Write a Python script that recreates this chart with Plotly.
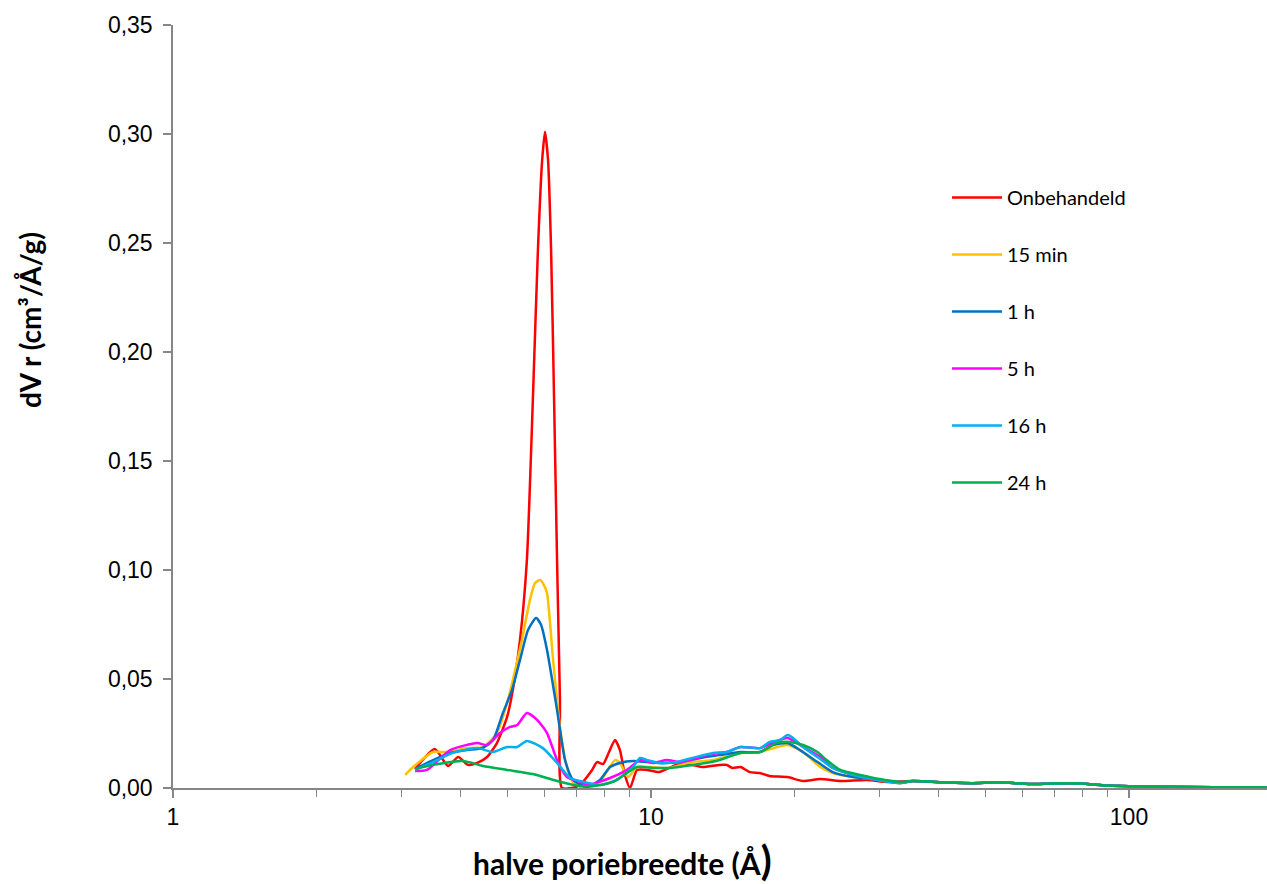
import plotly.graph_objects as go

# ---------------- data ----------------
series_names = ["Onbehandeld", "15 min", "1 h", "5 h", "16 h", "24 h"]
series_colors = ["#FF0000", "#FFC000", "#0070C0", "#FF00FF", "#00B0F0", "#00B050"]

tail_x = [35.3, 41.6, 47.0, 53.7, 62.1, 69.3, 78.9, 90.4, 100, 120, 150, 194]
tail_y = [0.0032, 0.0025, 0.0022, 0.0026, 0.0018, 0.0021, 0.0021, 0.0011, 0.0008, 0.0006, 0.0004, 0.0003]

onb_x = [3.21, 3.53, 3.76, 3.95, 4.14, 4.33, 4.54, 4.76, 5.00, 5.14, 5.32, 5.50, 5.66, 5.80, 5.92,
         6.00, 6.09, 6.18, 6.27, 6.36, 6.45, 6.51, 6.83, 7.10, 7.53, 7.71, 7.94, 8.17, 8.41, 8.61,
         8.82, 9.04, 9.35, 9.81, 10.4, 11.3, 12.2, 12.8, 13.9, 14.4, 14.8, 15.4, 16.1, 16.9, 17.7,
         19.3, 20.8, 22.6, 24.9, 28.3, 31.2]
onb_y = [0.0087, 0.0179, 0.0101, 0.0142, 0.0106, 0.0115, 0.0142, 0.0206, 0.0326, 0.045, 0.0679, 0.1046,
         0.178, 0.2468, 0.288, 0.301, 0.288, 0.2468, 0.178, 0.1046, 0.0404, 0.0, 0.0, 0.0014, 0.0083,
         0.0119, 0.011, 0.0165, 0.022, 0.0174, 0.006, 0.0, 0.0083, 0.0083, 0.0073, 0.0106, 0.0106,
         0.0096, 0.0106, 0.0106, 0.0092, 0.0096, 0.0073, 0.0069, 0.0055, 0.005, 0.0032, 0.0041, 0.0032,
         0.0037, 0.0028]

min15_x = [3.06, 3.18, 3.50, 3.74, 4.12, 4.45, 4.76, 5.00, 5.14, 5.37, 5.58, 5.72, 5.86, 5.97, 6.06,
           6.24, 6.45, 6.67, 6.87, 7.21, 7.57, 7.94, 8.41, 8.61, 8.95, 9.35, 9.96, 10.9, 12.2, 13.5,
           15.4, 16.9, 19.3, 20.8, 22.6, 24.0, 26.5, 29.1, 33.2]
min15_y = [0.006, 0.0096, 0.0165, 0.0165, 0.0183, 0.0188, 0.0252, 0.039, 0.0495, 0.0679, 0.0862, 0.094,
           0.0954, 0.0931, 0.0894, 0.0587, 0.028, 0.0096, 0.0028, 0.0, 0.0009, 0.005, 0.0128, 0.0115,
           0.005, 0.0096, 0.0096, 0.0092, 0.0119, 0.0128, 0.0161, 0.0165, 0.0197, 0.0165, 0.0096,
           0.0069, 0.005, 0.0041, 0.0023]

h1_x = [3.21, 3.50, 3.80, 4.12, 4.43, 4.67, 4.90, 5.12, 5.32, 5.53, 5.75, 5.89, 6.06, 6.36, 6.61, 6.87,
        7.35, 7.82, 8.21, 8.61, 9.17, 9.81, 10.4, 11.5, 12.7, 13.9, 15.4, 16.9, 18.0, 19.3, 20.5,
        22.3, 24.0, 26.5, 29.1, 33.2]
h1_y = [0.0087, 0.0128, 0.0161, 0.0174, 0.0183, 0.022, 0.0344, 0.045, 0.0587, 0.0725, 0.078, 0.0748,
        0.0633, 0.0358, 0.0128, 0.0037, 0.0005, 0.0037, 0.0096, 0.0115, 0.0124, 0.0119, 0.0115, 0.0119,
        0.0138, 0.0151, 0.0165, 0.0165, 0.0197, 0.0206, 0.0174, 0.0119, 0.0073, 0.005, 0.0041, 0.0023]

h5_x = [3.21, 3.40, 3.80, 4.33, 4.54, 4.83, 5.07, 5.25, 5.50, 5.78, 6.06, 6.36, 6.67, 7.10, 7.35, 8.21,
        8.91, 9.48, 10.1, 10.8, 11.5, 12.7, 13.1, 13.9, 14.4, 15.4, 16.9, 17.7, 19.3, 20.8, 22.6, 24.0,
        26.5, 29.1, 33.2]
h5_y = [0.0078, 0.0083, 0.0174, 0.0206, 0.0197, 0.0252, 0.028, 0.0289, 0.0344, 0.0312, 0.0252, 0.0128,
        0.005, 0.0028, 0.0014, 0.0046, 0.0083, 0.0128, 0.0115, 0.0128, 0.0119, 0.0142, 0.0151, 0.0161,
        0.0165, 0.0188, 0.0183, 0.0202, 0.0229, 0.0188, 0.0142, 0.0092, 0.006, 0.0041, 0.0028]

h16_x = [3.21, 3.50, 3.85, 4.33, 4.67, 5.00, 5.25, 5.50, 5.94, 6.36, 6.77, 7.10, 7.82, 8.49, 9.17, 9.48,
         9.81, 10.4, 11.3, 12.2, 13.5, 14.4, 15.4, 16.9, 17.7, 18.6, 19.3, 19.7, 20.8, 22.3, 24.0, 26.5,
         29.1, 33.2]
h16_y = [0.0083, 0.0119, 0.0161, 0.0183, 0.0165, 0.0188, 0.0188, 0.0216, 0.0183, 0.0115, 0.0046, 0.0032,
         0.0014, 0.0037, 0.0096, 0.0138, 0.0128, 0.0115, 0.0119, 0.0138, 0.0161, 0.0165, 0.0188, 0.0183,
         0.0211, 0.022, 0.0243, 0.0234, 0.0188, 0.0142, 0.0092, 0.006, 0.0041, 0.0023]

h24_x = [3.21, 3.50, 4.04, 4.45, 5.00, 5.66, 6.36, 7.10, 7.57, 8.33, 9.35, 10.1, 10.9, 12.2, 13.7, 15.4,
         16.9, 18.3, 19.5, 20.8, 22.3, 23.3, 24.9, 27.4, 30.1, 33.2]
h24_y = [0.0087, 0.0106, 0.0124, 0.0101, 0.0083, 0.0064, 0.0032, 0.0009, 0.0009, 0.0028, 0.0096, 0.0092,
         0.0092, 0.0106, 0.0124, 0.0161, 0.0165, 0.0206, 0.0211, 0.0197, 0.0165, 0.0128, 0.0083, 0.006,
         0.0041, 0.0028]

y_tick_vals = [0, 0.05, 0.10, 0.15, 0.20, 0.25, 0.30, 0.35]
x_tick_vals = [1, 10, 100]

all_x = [onb_x, min15_x, h1_x, h5_x, h16_x, h24_x]
all_y = [onb_y, min15_y, h1_y, h5_y, h16_y, h24_y]

# ---------------- figure ----------------
W, H = 1267, 884
ML, MR, MT, MB = 173, 0, 25, 96
PW, PH = W - ML - MR, H - MT - MB

fig = go.Figure()
for i, (name, col, xs, ys) in enumerate(zip(series_names, series_colors, all_x, all_y)):
    fig.add_trace(go.Scatter(
        x=xs + tail_x, y=ys + tail_y, name=name, mode="lines",
        line=dict(color=col, width=2.5, shape="spline", smoothing=0.6),
        legendgroup=f"g{i}",
    ))

fig.update_layout(
    width=W, height=H,
    margin=dict(l=ML, r=MR, t=MT, b=MB, autoexpand=False),
    paper_bgcolor="white", plot_bgcolor="white",
    separators=",.",
    font=dict(family="Liberation Sans, Arial, sans-serif", size=23, color="#000000"),
    showlegend=True,
    legend=dict(
        xref="paper", yref="paper",
        x=(947 - ML) / PW, y=1 - (178 - MT) / PH,
        xanchor="left", yanchor="top",
        font=dict(family="Lato, Open Sans, sans-serif", size=20, color="#000000"),
        tracegroupgap=28, itemwidth=50, bgcolor="rgba(0,0,0,0)",
    ),
    xaxis=dict(
        type="log", range=[0, 2.2887],
        tickvals=x_tick_vals, ticktext=[str(v) for v in x_tick_vals],
        ticks="outside", ticklen=8, tickwidth=1.5, tickcolor="#868686",
        showline=True, linecolor="#868686", linewidth=1.5,
        showgrid=False, zeroline=False,
        minor=dict(ticks="outside", ticklen=7, tickwidth=1.2, tickcolor="#868686",
                   dtick="D1", showgrid=False),
        tickfont=dict(size=23),
    ),
    yaxis=dict(
        range=[0, 0.35], tickvals=y_tick_vals, tickformat=".2f",
        ticks="outside", ticklen=8, tickwidth=1.5, tickcolor="#868686",
        showline=True, linecolor="#868686", linewidth=1.5,
        showgrid=False, zeroline=False,
        tickfont=dict(size=23), ticklabelstandoff=6,
    ),
)

# axis titles
fig.add_annotation(
    text="<b>dV r (cm³/Å/g)</b>", xref="paper", yref="paper",
    x=(30 - ML) / PW, y=(788 - 320) / PH, textangle=-90,
    showarrow=False, xanchor="center", yanchor="middle",
    font=dict(family="Lato, Open Sans, sans-serif", size=28, color="#000000"),
)
fig.add_annotation(
    text="<b>halve poriebreedte (Å</b><span style='font-size:40px'><b>)</b></span>",
    xref="paper", yref="paper",
    x=(622 - ML) / PW, y=-(860 - 788) / PH,
    showarrow=False, xanchor="center", yanchor="middle",
    font=dict(family="Lato, Open Sans, sans-serif", size=30, color="#000000"),
)

fig.write_html("out.html")
